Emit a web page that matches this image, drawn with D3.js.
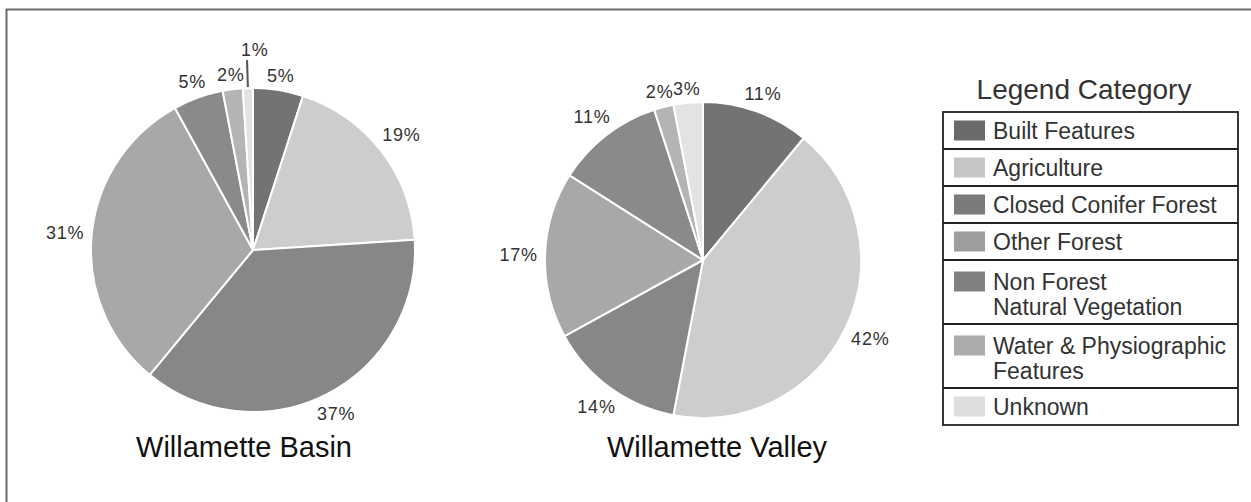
<!DOCTYPE html>
<html>
<head>
<meta charset="utf-8">
<script src="https://cdn.jsdelivr.net/npm/d3@7"></script>
<style>
  html, body { margin: 0; padding: 0; background: #fff; }
  svg { display: block; font-family: "Liberation Sans", Arial, Helvetica, sans-serif; }
</style>
</head>
<body>
<svg id="chart" width="1251" height="502"></svg>
<script>
// ---- data ----
const categories = ["Built Features", "Agriculture", "Closed Conifer Forest", "Other Forest",
  "Non Forest Natural Vegetation", "Water & Physiographic Features", "Unknown"];
const legendLines = [["Built Features"], ["Agriculture"], ["Closed Conifer Forest"], ["Other Forest"],
  ["Non Forest", "Natural Vegetation"], ["Water & Physiographic", "Features"], ["Unknown"]];
const basinValues = [5, 19, 37, 31, 5, 2, 1];
const valleyValues = [11, 42, 14, 17, 11, 2, 3];
const pieTitles = ["Willamette Basin", "Willamette Valley"];
const legendTitle = "Legend Category";
const leaderLabels = [[6], []]; // slices whose label uses a leader line

// ---- styles ----
const sliceColors = ["#737373", "#cdcdcd", "#878787", "#a8a8a8", "#8a8a8a", "#b4b4b4", "#e3e3e3"];
const swatchColors = ["#6a6a6a", "#c6c6c6", "#7b7b7b", "#9d9d9d", "#808080", "#acacac", "#dedede"];

const svg = d3.select("#chart");

// outer frame (only top and left visible)
svg.append("rect")
  .attr("x", 6.5).attr("y", 9.5).attr("width", 1300).attr("height", 600)
  .attr("fill", "none").attr("stroke", "#6a6a6a").attr("stroke-width", 2);

const pies = [
  { values: basinValues, cx: 253, cy: 250, r: 162, title: pieTitles[0], tx: 244, leaders: leaderLabels[0] },
  { values: valleyValues, cx: 703, cy: 260, r: 158, title: pieTitles[1], tx: 717, leaders: leaderLabels[1] }
];

const color = d3.scaleOrdinal().domain(categories).range(sliceColors);
const swatch = d3.scaleOrdinal().domain(categories).range(swatchColors);

pies.forEach(p => {
  const g = svg.append("g").attr("transform", `translate(${p.cx},${p.cy})`);
  const data = p.values.map((v, i) => ({ cat: categories[i], v, i }));
  const arcs = d3.pie().sort(null).value(d => d.v)(data);
  const arc = d3.arc().innerRadius(0).outerRadius(p.r);

  g.selectAll("path.slice").data(arcs).join("path")
    .attr("class", "slice")
    .attr("d", arc)
    .attr("fill", d => color(d.data.cat))
    .attr("stroke", "#fff").attr("stroke-width", 2).attr("stroke-linejoin", "round");

  const fmt = d => d3.format(".0f")(d.data.v) + "%";
  arcs.forEach(d => {
    const a = (d.startAngle + d.endAngle) / 2;
    const sx = Math.sin(a), cy = -Math.cos(a);
    const label = g.append("text")
      .attr("font-size", 18).attr("letter-spacing", 0.8).attr("fill", "#333")
      .attr("text-anchor", "middle").attr("dy", "0.36em")
      .text(fmt(d));
    if (p.leaders.includes(d.data.i)) {
      g.append("line")
        .attr("x1", sx * (p.r + 1)).attr("y1", cy * (p.r + 1))
        .attr("x2", sx * (p.r + 28)).attr("y2", cy * (p.r + 28))
        .attr("stroke", "#555").attr("stroke-width", 2);
      label.attr("x", sx * (p.r + 39) + 8).attr("y", cy * (p.r + 39));
    } else {
      const hw = label.node().getComputedTextLength() / 2;
      const hh = 6;
      const off = 7 + Math.abs(Math.sin(a)) * hw + Math.abs(Math.cos(a)) * hh;
      label.attr("x", sx * (p.r + off)).attr("y", cy * (p.r + off));
    }
  });

  svg.append("text")
    .attr("x", p.tx).attr("y", 457)
    .attr("text-anchor", "middle").attr("font-size", 29).attr("fill", "#111")
    .text(p.title);
});

// ---- legend ----
const lg = { x: 943, y: 112, w: 295, single: 37, double: 64 };
svg.append("text")
  .attr("x", 1084).attr("y", 99).attr("text-anchor", "middle")
  .attr("font-size", 28).attr("fill", "#333")
  .text(legendTitle);

let yy = lg.y;
const rowTops = [];
legendLines.forEach((lines, i) => {
  const h = lines.length > 1 ? lg.double : lg.single;
  rowTops.push({ top: yy, h, lines, cat: categories[i] });
  yy += h;
});
const legendBottom = yy;

const rows = svg.append("g");
rowTops.forEach(row => {
  const mid = row.top + row.h / 2;
  const lh = 25;
  const firstBase = mid - (row.lines.length - 1) * lh / 2 + 8 + (row.lines.length > 1 ? 2 : 0);
  rows.append("rect")
    .attr("x", lg.x + 11).attr("y", firstBase - 18).attr("width", 31).attr("height", 20)
    .attr("fill", swatch(row.cat));
  const t = rows.append("text").attr("font-size", 23).attr("fill", "#333");
  row.lines.forEach((ln, k) => {
    t.append("tspan").attr("x", lg.x + 50).attr("y", firstBase + k * lh).text(ln);
  });
});

// row dividers and box
rowTops.slice(1).forEach(row => {
  svg.append("line")
    .attr("x1", lg.x).attr("x2", lg.x + lg.w)
    .attr("y1", row.top).attr("y2", row.top)
    .attr("stroke", "#222").attr("stroke-width", 1.8);
});
svg.append("rect")
  .attr("x", lg.x).attr("y", lg.y).attr("width", lg.w).attr("height", legendBottom - lg.y)
  .attr("fill", "none").attr("stroke", "#222").attr("stroke-width", 1.8);
</script>
</body>
</html>
